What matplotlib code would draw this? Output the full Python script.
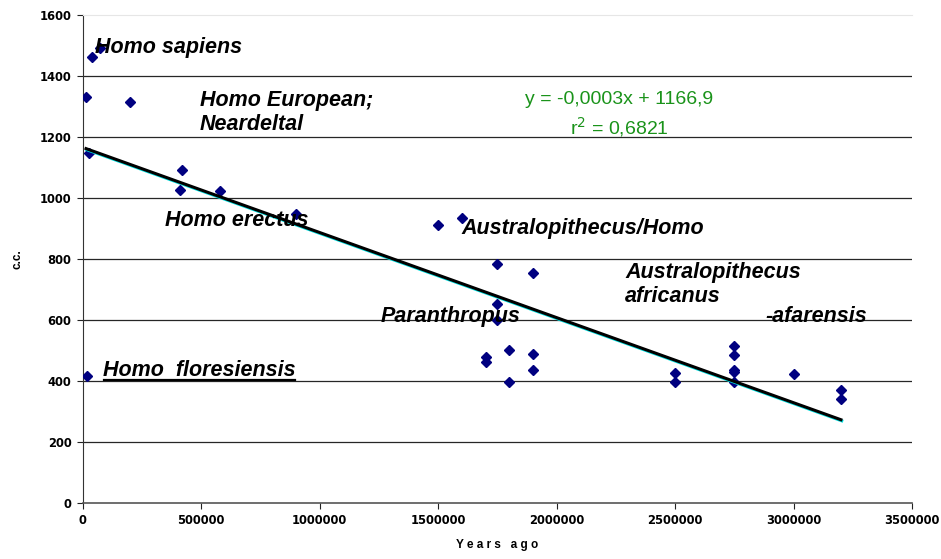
import matplotlib
matplotlib.use("Agg")
import matplotlib.pyplot as plt
import matplotlib.patheffects as pe
from matplotlib.lines import Line2D
import numpy as np

# ---- data (years ago, cranial capacity in c.c.) ----
years = [20000, 38000, 75000, 14000, 200000, 25000, 420000, 410000, 580000, 900000,
         1500000, 1600000, 1750000, 1900000, 1750000, 1750000, 1800000, 1900000,
         1700000, 1700000, 1900000, 1800000,
         2500000, 2500000, 2750000, 2750000, 2750000, 2750000, 2750000,
         3000000, 3200000, 3200000]
cc = [417, 1464, 1492, 1333, 1316, 1150, 1094, 1028, 1024, 947,
      913, 936, 784, 755, 652, 601, 503, 491,
      481, 464, 437, 399,
      428, 399, 516, 486, 437, 430, 399,
      425, 373, 341]

trend_slope = -0.000279
trend_intercept = 1166.9

x_ticks = [0, 500000, 1000000, 1500000, 2000000, 2500000, 3000000, 3500000]
y_ticks = [0, 200, 400, 600, 800, 1000, 1200, 1400, 1600]

labels = [
    ("Homo sapiens", 50000, 1494),
    ("Homo European;\nNeardeltal", 495000, 1282),
    ("Homo erectus", 347000, 926),
    ("Australopithecus/Homo", 1598000, 900),
    ("Australopithecus\nafricanus", 2289000, 717),
    ("Paranthropus", 1258000, 613),
    ("-afarensis", 2883000, 613),
]
underlined_label = ("Homo  floresiensis", 84000, 436)

eq_text = "y = -0,0003x + 1166,9"
r2_text = "r$^2$ = 0,6821"

# ---- figure ----
plt.rcParams['font.family'] = ['Liberation Sans', 'DejaVu Sans']
fig = plt.figure(figsize=(9.41, 5.59), dpi=100)
ax = fig.add_axes([0.0879, 0.0996, 0.9692 - 0.0879, 0.9726 - 0.0996])

ax.set_xlim(0, 3500000)
ax.set_ylim(0, 1600)
ax.set_xticks(x_ticks)
ax.set_yticks(y_ticks)
tick_font = dict(fontsize=8.3, fontweight='bold', family='DejaVu Sans')
ax.set_xticklabels([str(v) for v in x_ticks], **tick_font)
ax.set_yticklabels([str(v) for v in y_ticks], **tick_font)
ax.tick_params(direction='out', length=4, width=0.8, colors='#222222', pad=4)
for lab in ax.get_xticklabels() + ax.get_yticklabels():
    lab.set_color('black')

for y in y_ticks[1:-1]:
    ax.axhline(y, color='#262626', lw=0.9, zorder=1)

ax.spines['top'].set_color('#e6e6e6')
ax.spines['right'].set_visible(False)
ax.spines['left'].set_color('#333333')
ax.spines['bottom'].set_color('#555555')
ax.spines['bottom'].set_linewidth(1.2)

ax.plot(years, cc, linestyle='none', marker='D', markersize=5.2,
        color='#000080', zorder=3)

xs = np.array([min(years), max(years)])
ax.plot(xs, trend_intercept + trend_slope * xs, color='black', lw=2.2, zorder=4,
        path_effects=[pe.SimpleLineShadow(offset=(0.6, -0.8), shadow_color='#00e0e0', alpha=1),
                      pe.Normal()])

ax.set_xlabel("Y e a r s   a g o", fontsize=8.5, fontweight='bold', labelpad=8)
ax.set_ylabel("c.c.", fontsize=8.5, fontweight='bold', labelpad=12)

for txt, x, y in labels:
    ax.text(x, y, txt, fontsize=15.5, fontweight='bold', fontstyle='italic',
            ha='left', va='center', linespacing=1.15, zorder=5)

t = ax.text(underlined_label[1], underlined_label[2], underlined_label[0], fontsize=15.5,
            fontweight='bold', fontstyle='italic', ha='left', va='center', zorder=5)

ax.text(2264000, 1324, eq_text, fontsize=14, color='#1a931a', ha='center', va='center')
ax.text(2264000, 1233, r2_text, fontsize=14, color='#1a931a', ha='center', va='center')

fig.canvas.draw()
bb = t.get_window_extent()
inv = fig.transFigure.inverted()
(x0, y0), (x1, _) = inv.transform([(bb.x0 + 1, bb.y0 + 1), (bb.x1, bb.y0)])
fig.add_artist(Line2D([x0, x1], [y0, y0], transform=fig.transFigure, color='black', lw=1.6))

fig.savefig("out.png", dpi=100)
